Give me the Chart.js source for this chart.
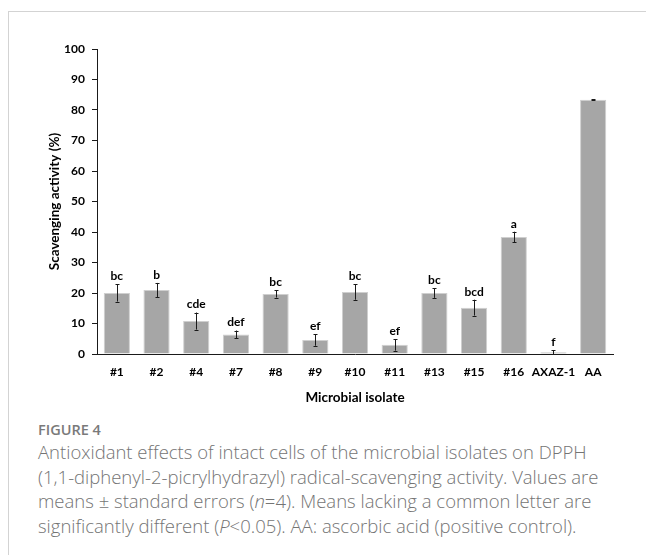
<!DOCTYPE html>
<html>
<head>
<meta charset="utf-8">
<script src="https://cdn.jsdelivr.net/npm/chart.js@4.4.0/dist/chart.umd.min.js"></script>
<style>
  html, body { margin: 0; padding: 0; background: #fff; }
  body { width: 646px; height: 555px; position: relative; overflow: hidden; }
  .frame {
    position: absolute; left: 8px; top: 11px; right: -2px; bottom: -2px;
    border-top: 1px solid #d3d3d3; border-left: 1px solid #d3d3d3;
  }
  .chart-box { position: absolute; left: 0; top: 0; width: 646px; height: 410px; }
  .caption { position: absolute; left: 38px; top: 420px; font-family: "Open Sans", sans-serif; color: #747474; white-space: nowrap; }
  .caption .fig { font-size: 14.5px; font-weight: 600; color: #7a7a7a; line-height: 20px; }
  .caption .text { font-size: 18.5px; font-weight: 300; line-height: 24.5px; margin-top: 0; }
</style>
</head>
<body>
<div class="frame"></div>
<div class="chart-box"><canvas id="chart"></canvas></div>
<div class="caption">
  <div class="fig">FIGURE 4</div>
  <div class="text">Antioxidant effects of intact cells of the microbial isolates on DPPH<br>(1,1-diphenyl-2-picrylhydrazyl) radical-scavenging activity. Values are<br>means ± standard errors (<i>n</i>=4). Means lacking a common letter are<br>significantly different (<i>P</i>&lt;0.05). AA: ascorbic acid (positive control).</div>
</div>
<script>
const isolates = ["#1", "#2", "#4", "#7", "#8", "#9", "#10", "#11", "#13", "#15", "#16", "AXAZ-1", "AA"];
const means = [20.0, 21.0, 10.8, 6.4, 19.7, 4.6, 20.3, 3.0, 20.0, 15.2, 38.4, 0.6, 83.4];
const errors = [2.8, 2.3, 2.8, 1.3, 1.2, 1.9, 2.5, 1.9, 1.6, 2.6, 1.7, 0.6, 0.2];
const letters = ["bc", "b", "cde", "def", "bc", "ef", "bc", "ef", "bc", "bcd", "a", "f", ""];
const yTicks = [0, 10, 20, 30, 40, 50, 60, 70, 80, 90, 100];

const tickFont = { family: "Lato, 'Open Sans', sans-serif", size: 12, weight: "bold" };
const titleFont = { family: "Lato, 'Open Sans', sans-serif", size: 13.5, weight: "bold" };

// error bars and significance letters, drawn from the y scale
const errorBarsPlugin = {
  id: "errorBars",
  afterDatasetsDraw(chart) {
    const { ctx, scales: { y } } = chart;
    const meta = chart.getDatasetMeta(0);
    ctx.save();
    ctx.strokeStyle = "#1a1a1a";
    ctx.lineWidth = 1;
    ctx.fillStyle = "#000";
    ctx.font = "bold 12px Lato, 'Open Sans', sans-serif";
    ctx.textAlign = "center";
    ctx.textBaseline = "bottom";
    meta.data.forEach((bar, i) => {
      const cx = Math.round(bar.x) + 0.5;
      const top = y.getPixelForValue(means[i] + errors[i]);
      const bottom = y.getPixelForValue(Math.max(means[i] - errors[i], 0));
      ctx.beginPath();
      ctx.moveTo(cx, top);
      ctx.lineTo(cx, bottom);
      ctx.moveTo(cx - 2, Math.round(top) + 0.5);
      ctx.lineTo(cx + 2, Math.round(top) + 0.5);
      ctx.moveTo(cx - 2, Math.round(bottom) + 0.5);
      ctx.lineTo(cx + 2, Math.round(bottom) + 0.5);
      ctx.stroke();
      if (letters[i]) ctx.fillText(letters[i], bar.x, top - 2);
    });
    ctx.restore();
  },
};

new Chart(document.getElementById("chart"), {
  type: "bar",
  data: {
    labels: isolates,
    datasets: [{
      data: means,
      backgroundColor: "#a6a6a6",
      borderColor: "#cfcfcf",
      borderWidth: 1,
      barPercentage: 0.66,
      categoryPercentage: 1,
    }],
  },
  options: {
    responsive: true,
    maintainAspectRatio: false,
    animation: false,
    layout: { padding: { left: 0, right: 33, top: 49, bottom: 0 } },
    plugins: { legend: { display: false }, tooltip: { enabled: false } },
    scales: {
      x: {
        grid: { display: false, drawTicks: false },
        border: { display: true, color: "#1a1a1a", width: 1 },
        ticks: { color: "#000", font: tickFont, padding: 11, maxRotation: 0, autoSkip: false },
        title: { display: true, text: "Microbial isolate", color: "#000", font: titleFont, padding: { top: 0, bottom: 4 } },
        afterFit(scale) { scale.height = 56; },
      },
      y: {
        min: 0,
        max: 100,
        afterBuildTicks(scale) { scale.ticks = yTicks.map((v) => ({ value: v })); },
        grid: { drawOnChartArea: false, drawTicks: true, tickLength: 5, color: "#1a1a1a" },
        border: { display: true, color: "#1a1a1a", width: 1 },
        ticks: { color: "#000", font: tickFont, padding: 7 },
        title: { display: true, text: "Scavenging activity (%)", color: "#000", font: titleFont, padding: { top: 47, bottom: 0 } },
        afterFit(scale) { scale.width = 97; },
      },
    },
  },
  plugins: [errorBarsPlugin],
});
</script>
</body>
</html>
